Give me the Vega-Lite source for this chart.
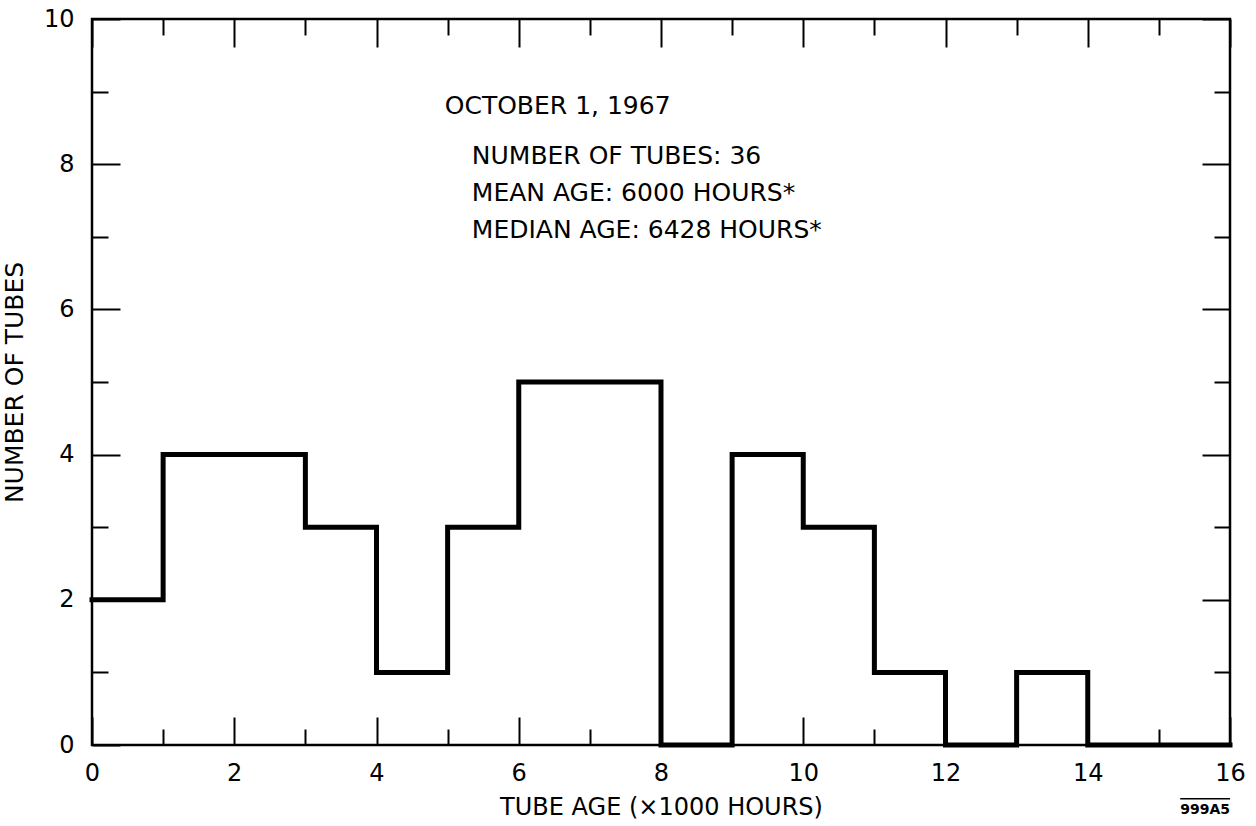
{
  "$schema": "https://vega.github.io/schema/vega-lite/v6.json",
  "width": 1138,
  "height": 726,
  "autosize": {"type": "none"},
  "padding": {"left": 92, "top": 19, "right": 26, "bottom": 81},
  "background": "white",
  "config": {
    "view": {"stroke": "black", "strokeWidth": 2.5},
    "font": "DejaVu Sans",
    "axis": {
      "domain": false, "grid": false, "tickColor": "black", "tickWidth": 2,
      "labelColor": "black", "titleColor": "black", "labelFont": "DejaVu Sans",
      "titleFont": "DejaVu Sans", "titleFontWeight": "normal", "labelFontSize": 24,
      "titleFontSize": 24
    }
  },
  "datasets": {
    "hist": [
      {"age": 0, "tubes": 2}, {"age": 1, "tubes": 4}, {"age": 2, "tubes": 4},
      {"age": 3, "tubes": 3}, {"age": 4, "tubes": 1}, {"age": 5, "tubes": 3},
      {"age": 6, "tubes": 5}, {"age": 7, "tubes": 5}, {"age": 8, "tubes": 0},
      {"age": 9, "tubes": 4}, {"age": 10, "tubes": 3}, {"age": 11, "tubes": 1},
      {"age": 12, "tubes": 0}, {"age": 13, "tubes": 1}, {"age": 14, "tubes": 0},
      {"age": 15, "tubes": 0}, {"age": 16, "tubes": 0}
    ]
  },
  "resolve": {"axis": {"x": "independent", "y": "independent"}},
  "layer": [
    {
      "data": {"name": "hist"},
      "mark": {"type": "line", "interpolate": "step-after", "color": "black", "strokeWidth": 5, "strokeJoin": "miter", "strokeCap": "square"},
      "encoding": {
        "x": {"field": "age", "type": "quantitative", "scale": {"domain": [0, 16], "nice": false, "zero": false},
              "axis": {"orient": "bottom", "values": [0, 2, 4, 6, 8, 10, 12, 14, 16], "ticks": false, "labelPadding": 16,
                       "labelFlush": false, "title": "TUBE AGE (×1000 HOURS)", "titlePadding": 10}},
        "y": {"field": "tubes", "type": "quantitative", "scale": {"domain": [0, 10], "nice": false},
              "axis": {"orient": "left", "values": [0, 2, 4, 6, 8, 10], "ticks": false, "labelPadding": 18,
                       "labelFlush": false, "title": "NUMBER OF TUBES", "titlePadding": 16, "titleFontSize": 25}}
      }
    },
    {
      "data": {"name": "hist"},
      "mark": {"type": "line", "strokeOpacity": 0},
      "encoding": {
        "x": {"field": "age", "type": "quantitative", "axis": {"orient": "bottom", "values": [0, 2, 4, 6, 8, 10, 12, 14, 16], "tickSize": -28, "labels": false, "title": null}},
        "y": {"field": "tubes", "type": "quantitative", "axis": {"orient": "left", "values": [0, 2, 4, 6, 8, 10], "tickSize": -28, "labels": false, "title": null}}
      }
    },
    {
      "data": {"name": "hist"},
      "mark": {"type": "line", "strokeOpacity": 0},
      "encoding": {
        "x": {"field": "age", "type": "quantitative", "axis": {"orient": "bottom", "values": [1, 3, 5, 7, 9, 11, 13, 15], "tickSize": -16, "labels": false, "title": null}},
        "y": {"field": "tubes", "type": "quantitative", "axis": {"orient": "left", "values": [1, 3, 5, 7, 9], "tickSize": -16, "labels": false, "title": null}}
      }
    },
    {
      "data": {"name": "hist"},
      "mark": {"type": "line", "strokeOpacity": 0},
      "encoding": {
        "x": {"field": "age", "type": "quantitative", "axis": {"orient": "top", "values": [0, 2, 4, 6, 8, 10, 12, 14, 16], "tickSize": -28, "labels": false, "title": null}},
        "y": {"field": "tubes", "type": "quantitative", "axis": {"orient": "right", "values": [0, 2, 4, 6, 8, 10], "tickSize": -28, "labels": false, "title": null}}
      }
    },
    {
      "data": {"name": "hist"},
      "mark": {"type": "line", "strokeOpacity": 0},
      "encoding": {
        "x": {"field": "age", "type": "quantitative", "axis": {"orient": "top", "values": [1, 3, 5, 7, 9, 11, 13, 15], "tickSize": -16, "labels": false, "title": null}},
        "y": {"field": "tubes", "type": "quantitative", "axis": {"orient": "right", "values": [1, 3, 5, 7, 9], "tickSize": -16, "labels": false, "title": null}}
      }
    },
    {
      "data": {"values": [{"label": "OCTOBER 1, 1967"}]},
      "mark": {"type": "text", "align": "left", "baseline": "alphabetic", "fontSize": 25, "color": "black"},
      "encoding": {"x": {"datum": 4.96, "axis": null}, "y": {"datum": 8.69, "axis": null}, "text": {"field": "label"}}
    },
    {
      "data": {"values": [{"label": "NUMBER OF TUBES: 36"}]},
      "mark": {"type": "text", "align": "left", "baseline": "alphabetic", "fontSize": 25, "color": "black"},
      "encoding": {"x": {"datum": 5.34, "axis": null}, "y": {"datum": 8.0, "axis": null}, "text": {"field": "label"}}
    },
    {
      "data": {"values": [{"label": "MEAN AGE: 6000 HOURS*"}]},
      "mark": {"type": "text", "align": "left", "baseline": "alphabetic", "fontSize": 25, "color": "black"},
      "encoding": {"x": {"datum": 5.34, "axis": null}, "y": {"datum": 7.5, "axis": null}, "text": {"field": "label"}}
    },
    {
      "data": {"values": [{"label": "MEDIAN AGE: 6428 HOURS*"}]},
      "mark": {"type": "text", "align": "left", "baseline": "alphabetic", "fontSize": 25, "color": "black"},
      "encoding": {"x": {"datum": 5.34, "axis": null}, "y": {"datum": 6.98, "axis": null}, "text": {"field": "label"}}
    },
    {
      "data": {"values": [{"label": "999A5"}]},
      "mark": {"type": "text", "align": "right", "baseline": "alphabetic", "fontSize": 14, "fontWeight": "bold", "color": "black"},
      "encoding": {"x": {"datum": 16.0, "axis": null}, "y": {"datum": -0.95, "axis": null}, "text": {"field": "label"}}
    },
    {
      "data": {"values": [{"label": "999A5"}]},
      "mark": {"type": "rule", "color": "black", "strokeWidth": 1.5},
      "encoding": {"x": {"datum": 15.3, "axis": null}, "x2": {"datum": 16.0}, "y": {"datum": -0.74, "axis": null}}
    }
  ]
}
